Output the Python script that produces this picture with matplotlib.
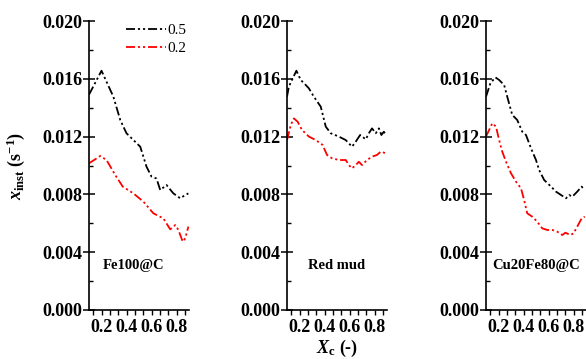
import matplotlib

matplotlib.use("Agg")
import matplotlib.pyplot as plt
from matplotlib.ticker import AutoMinorLocator, MultipleLocator

plt.rcParams.update({
    "font.family": "Liberation Serif",
    "font.weight": "bold",
    "mathtext.fontset": "custom",
    "mathtext.rm": "Liberation Serif:bold",
    "mathtext.it": "Liberation Serif:bold:italic",
    "mathtext.bf": "Liberation Serif:bold",
})

# --- data ------------------------------------------------------------------
panel_names = ["Fe100@C", "Red mud", "Cu20Fe80@C"]
series_labels = ["0.5", "0.2"]

fe_x_05 = [0.10, 0.20, 0.295, 0.35, 0.40, 0.51, 0.56, 0.60, 0.64, 0.67, 0.72, 0.775, 0.83, 0.87, 0.895]
fe_y_05 = [0.0149, 0.01656, 0.01476, 0.01315, 0.01223, 0.0113, 0.00992, 0.00923, 0.0091, 0.0083,
           0.00865, 0.00807, 0.00773, 0.00796, 0.00807]
fe_x_02 = [0.10, 0.19, 0.24, 0.31, 0.37, 0.455, 0.535, 0.615, 0.695, 0.75, 0.79, 0.815, 0.85, 0.87, 0.895]
fe_y_02 = [0.01015, 0.01066, 0.01038, 0.00934, 0.00854, 0.00807, 0.0075, 0.00669, 0.00634, 0.00558,
           0.00588, 0.00554, 0.00473, 0.00496, 0.00577]

rm_x_05 = [0.10, 0.115, 0.14, 0.175, 0.21, 0.25, 0.275, 0.315, 0.37, 0.41, 0.45, 0.515, 0.57, 0.62,
           0.65, 0.685, 0.73, 0.755, 0.78, 0.81, 0.835, 0.855, 0.875, 0.89]
rm_y_05 = [0.01476, 0.01546, 0.01592, 0.01656, 0.01592, 0.01557, 0.01534, 0.01476, 0.01407, 0.01269,
           0.01223, 0.0120, 0.01176, 0.0113, 0.01165, 0.01211, 0.01181, 0.01223, 0.01257, 0.01223,
           0.01257, 0.01211, 0.01234, 0.01211]
rm_x_02 = [0.10, 0.13, 0.155, 0.185, 0.22, 0.275, 0.33, 0.385, 0.42, 0.46, 0.515, 0.57, 0.595, 0.62,
           0.65, 0.675, 0.70, 0.74, 0.78, 0.82, 0.85, 0.875, 0.89]
rm_y_02 = [0.01176, 0.0128, 0.01326, 0.01303, 0.01246, 0.0120, 0.01176, 0.01142, 0.01073, 0.0105,
           0.01038, 0.01038, 0.01003, 0.0098, 0.01003, 0.01026, 0.01003, 0.01038, 0.01061, 0.01073,
           0.01096, 0.01089, 0.01084]

cf_x_05 = [0.10, 0.135, 0.175, 0.205, 0.245, 0.27, 0.31, 0.35, 0.39, 0.42, 0.46, 0.50, 0.525, 0.565,
           0.62, 0.66, 0.70, 0.74, 0.765, 0.79, 0.83, 0.865, 0.89]
cf_y_05 = [0.01476, 0.01569, 0.0161, 0.01592, 0.01557, 0.01476, 0.0135, 0.01315, 0.01234, 0.01211,
           0.01119, 0.01038, 0.00969, 0.0090, 0.00854, 0.00819, 0.00796, 0.00773, 0.00796, 0.00784,
           0.00819, 0.00854, 0.0083]
cf_x_02 = [0.10, 0.125, 0.15, 0.18, 0.205, 0.23, 0.26, 0.30, 0.34, 0.38, 0.405, 0.43, 0.47, 0.51,
           0.55, 0.59, 0.63, 0.67, 0.71, 0.735, 0.775, 0.80, 0.83, 0.865, 0.89]
cf_y_02 = [0.0120, 0.01246, 0.01292, 0.01269, 0.01176, 0.01096, 0.01026, 0.00946, 0.00888, 0.00842,
           0.00761, 0.00669, 0.00646, 0.00611, 0.00565, 0.00554, 0.00554, 0.00542, 0.00519, 0.00535,
           0.00519, 0.0053, 0.00577, 0.00634, 0.00646]

panels = [
    ((fe_x_05, fe_y_05), (fe_x_02, fe_y_02)),
    ((rm_x_05, rm_y_05), (rm_x_02, rm_y_02)),
    ((cf_x_05, cf_y_05), (cf_x_02, cf_y_02)),
]

# --- styling ----------------------------------------------------------------
LINE_COLORS = ["black", "red"]
DASH = (0, (5, 1.6, 1.2, 1.6, 1.2, 1.6))
W, H = 586, 359
LEFTS = [89, 287, 486]
AX_W, AX_TOP, AX_BOT = 100, 21, 310

fig = plt.figure(figsize=(W / 100, H / 100), dpi=100)

for i, (left, name, curves) in enumerate(zip(LEFTS, panel_names, panels)):
    ax = fig.add_axes([left / W, 1 - AX_BOT / H, AX_W / W, (AX_BOT - AX_TOP) / H])
    for (xs, ys), color, lab in zip(curves, LINE_COLORS, series_labels):
        ax.plot(xs, ys, color=color, linestyle=DASH, linewidth=1.3, label=lab)

    ax.set_xlim(0.1, 0.9)
    ax.set_ylim(0.0, 0.020)
    ax.xaxis.set_major_locator(MultipleLocator(0.2))
    ax.xaxis.set_minor_locator(AutoMinorLocator(3))
    ax.yaxis.set_minor_locator(MultipleLocator(0.002))
    ax.set_xticks([0.2, 0.4, 0.6, 0.8])
    ax.set_xticklabels(["0.2", "0.4", "0.6", "0.8"])
    ax.set_yticks([0.0, 0.004, 0.008, 0.012, 0.016, 0.020])
    ax.set_yticklabels(["0.000", "0.004", "0.008", "0.012", "0.016", "0.020"])
    ax.tick_params(axis="y", which="major", direction="inout", length=8, width=1.1,
                   labelsize=13, pad=1)
    ax.tick_params(axis="y", which="minor", direction="in", length=3, width=1.0)
    ax.tick_params(axis="x", which="both", direction="out", length=3.5, width=1.0,
                   labelsize=13, pad=3)
    for lbl in ax.get_xticklabels() + ax.get_yticklabels():
        lbl.set_fontweight("bold")

    ax.spines["top"].set_visible(False)
    ax.spines["right"].set_visible(False)
    ax.spines["left"].set_linewidth(1.2)
    ax.spines["bottom"].set_linewidth(1.2)
    ax.patch.set_alpha(0)

    ax.text(0.45 if i == 0 else 0.5, 0.155, name, transform=ax.transAxes,
            ha="center", va="center", fontsize=10.5, fontweight="bold")

    if i == 0:
        ax.set_ylabel(r"$\mathit{x}_{\mathrm{inst}}$ (s$^{\mathrm{-1}}$)", fontsize=13,
                      fontweight="bold")
        ax.yaxis.set_label_coords(-0.62, 0.5)
        ax.legend(loc="upper right", bbox_to_anchor=(1.11, 1.04), frameon=False,
                  prop={"family": "Liberation Serif", "weight": "normal", "size": 11},
                  handlelength=2.6, handletextpad=0.1, labelspacing=0.3)
    if i == 1:
        ax.set_xlabel(r"$\mathit{X}_{\mathrm{c}}$ (-)", fontsize=13, fontweight="bold",
                      labelpad=1.5)

fig.savefig("out.png", dpi=100)
